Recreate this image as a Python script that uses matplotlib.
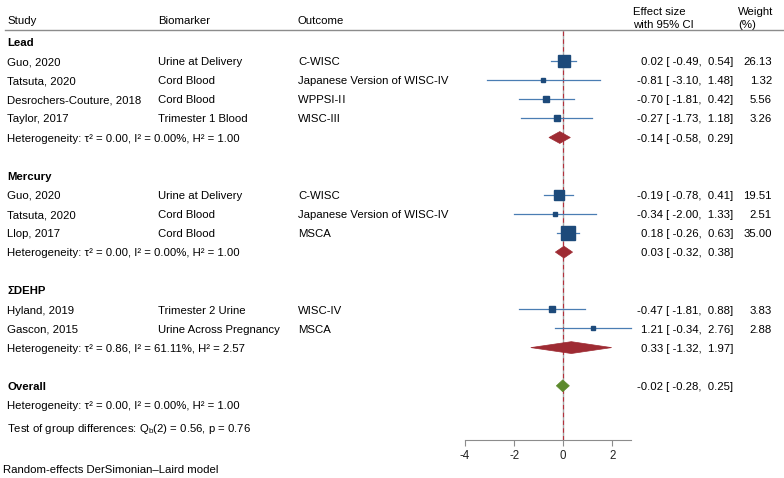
import matplotlib
matplotlib.use("Agg")
import matplotlib.pyplot as plt
from matplotlib import transforms
from matplotlib.patches import Polygon
from matplotlib.lines import Line2D
import numpy as np

plt.rcParams['font.family'] = ['Liberation Sans', 'DejaVu Sans']
plt.rcParams['mathtext.fontset'] = 'custom'
plt.rcParams['mathtext.rm'] = 'Liberation Sans'
plt.rcParams['mathtext.it'] = 'Liberation Sans:italic'
plt.rcParams['axes.unicode_minus'] = False

# study level data
study = ["Guo, 2020", "Tatsuta, 2020", "Desrochers-Couture, 2018", "Taylor, 2017",
         "Guo, 2020", "Tatsuta, 2020", "Llop, 2017",
         "Hyland, 2019", "Gascon, 2015"]
biomarker = ["Urine at Delivery", "Cord Blood", "Cord Blood", "Trimester 1 Blood",
             "Urine at Delivery", "Cord Blood", "Cord Blood",
             "Trimester 2 Urine", "Urine Across Pregnancy"]
outcome = ["C-WISC", "Japanese Version of WISC-IV", "WPPSI-I\u200aI", "WISC-III",
           "C-WISC", "Japanese Version of WISC-IV", "MSCA",
           "WISC-IV", "MSCA"]
est = [0.02, -0.81, -0.70, -0.27, -0.19, -0.34, 0.18, -0.47, 1.21]
lo = [-0.49, -3.10, -1.81, -1.73, -0.78, -2.00, -0.26, -1.81, -0.34]
hi = [0.54, 1.48, 0.42, 1.18, 0.41, 1.33, 0.63, 0.88, 2.76]
weight = [26.13, 1.32, 5.56, 3.26, 19.51, 2.51, 35.00, 3.83, 2.88]
group_of = [0, 0, 0, 0, 1, 1, 1, 2, 2]

# subgroup summaries
groups = ["Lead", "Mercury", "\u03a3DEHP"]
g_est = [-0.14, 0.03, 0.33]
g_lo = [-0.58, -0.32, -1.32]
g_hi = [0.29, 0.38, 1.97]
g_tau2 = [0.00, 0.00, 0.86]
g_i2 = [0.00, 0.00, 61.11]
g_h2 = [1.00, 1.00, 2.57]

# overall
o_est, o_lo, o_hi = -0.02, -0.28, 0.25
o_tau2, o_i2, o_h2 = 0.00, 0.00, 1.00
qb, qb_df, qb_p = 0.56, 2, 0.76
xticks = [-4, -2, 0, 2]

W, H = 784, 478
fig = plt.figure(figsize=(W / 100, H / 100), dpi=100)
row_h = 19.1
top_px, axis_px = 30, 440
first_row_px = 42
ax = fig.add_axes([465 / W, 1 - axis_px / H, (631 - 465) / W, (axis_px - top_px) / H])
ax.set_xlim(min(xticks), max(hi))
ax.set_ylim((axis_px - first_row_px) / row_h, (top_px - first_row_px) / row_h)
for s in ['top', 'right', 'left']:
    ax.spines[s].set_visible(False)
ax.spines['bottom'].set_color('#8c8c8c')
ax.set_yticks([])
ax.set_xticks(xticks)
ax.tick_params(axis='x', colors='#8c8c8c', length=4, labelsize=8.3, labelcolor='#222222', pad=3)
ax.patch.set_alpha(0)

tr = transforms.blended_transform_factory(fig.transFigure, ax.transData)
fs = 8.2
half_cap = 4.1  # px from row centre down to text baseline
col_study, col_bio, col_out = 7 / W, 158 / W, 298 / W
col_eff, col_w = 733 / W, 772 / W

def row_text(x, r, s, **kw):
    fig.text(x, r + half_cap / row_h, s, transform=tr, fontsize=fs, va='baseline', **kw)

def top_text(x, y_px, s):
    fig.text(x, 1 - (y_px + half_cap) / H, s, fontsize=fs, va='baseline')

def het_text(t, i, h):
    return f"Heterogeneity: \u03c4\u00b2 = {t:.2f}, I\u00b2 = {i:.2f}%, H\u00b2 = {h:.2f}"

def eff_text(e, l, u):
    return f"{e:.2f} [ {l:.2f}, {u:5.2f}]"

def diamond(e, l, u, r, color):
    hh = 0.31
    ax.add_patch(Polygon([(l, r), (e, r - hh), (u, r), (e, r + hh)],
                         closed=True, facecolor=color, edgecolor=color, lw=0.5, zorder=4))

# reference lines
ax.axvline(0, color='#a8a8a8', lw=1.0, zorder=1)
ax.axvline(o_est, color='#b5303c', lw=0.8, ls=(0, (4, 3)), zorder=2)

r = 0
for g in range(len(groups)):
    row_text(col_study, r, groups[g], fontweight='bold')
    r += 1
    for k in [i for i in range(len(study)) if group_of[i] == g]:
        row_text(col_study, r, study[k])
        row_text(col_bio, r, biomarker[k])
        row_text(col_out, r, outcome[k])
        row_text(col_eff, r, eff_text(est[k], lo[k], hi[k]), ha='right')
        row_text(col_w, r, f"{weight[k]:.2f}", ha='right')
        ax.plot([lo[k], hi[k]], [r, r], color='#4a7db3', lw=0.9, zorder=3, clip_on=False)
        ax.plot(est[k], r, marker='s', ms=1.45 * np.sqrt(weight[k]) + 1.0, color='#1d4a7a',
                zorder=5, clip_on=False)
        r += 1
    row_text(col_study, r, het_text(g_tau2[g], g_i2[g], g_h2[g]))
    row_text(col_eff, r, eff_text(g_est[g], g_lo[g], g_hi[g]), ha='right')
    diamond(g_est[g], g_lo[g], g_hi[g], r, '#9e2b33')
    r += 2

row_text(col_study, r, "Overall", fontweight='bold')
row_text(col_eff, r, eff_text(o_est, o_lo, o_hi), ha='right')
diamond(o_est, o_lo, o_hi, r, '#5c8a2c')
r += 1
row_text(col_study, r, het_text(o_tau2, o_i2, o_h2))
r += 1.2
row_text(col_study, r, f"Test of group differences: Q$_\\mathrm{{b}}$({qb_df}) = {qb:.2f}, p = {qb_p:.2f}")

# headers
top_text(col_study, 20, "Study")
top_text(col_bio, 20, "Biomarker")
top_text(col_out, 20, "Outcome")
top_text(633 / W, 11, "Effect size")
top_text(633 / W, 24, "with 95% CI")
top_text(738 / W, 11, "Weight")
top_text(738 / W, 24, "(%)")
fig.add_artist(Line2D([5 / W, 1], [1 - top_px / H, 1 - top_px / H], color='#8c8c8c', lw=1.0))

top_text(3 / W, 469, "Random-effects DerSimonian\u2013Laird model")

fig.savefig("out.png", dpi=100, facecolor='white')
